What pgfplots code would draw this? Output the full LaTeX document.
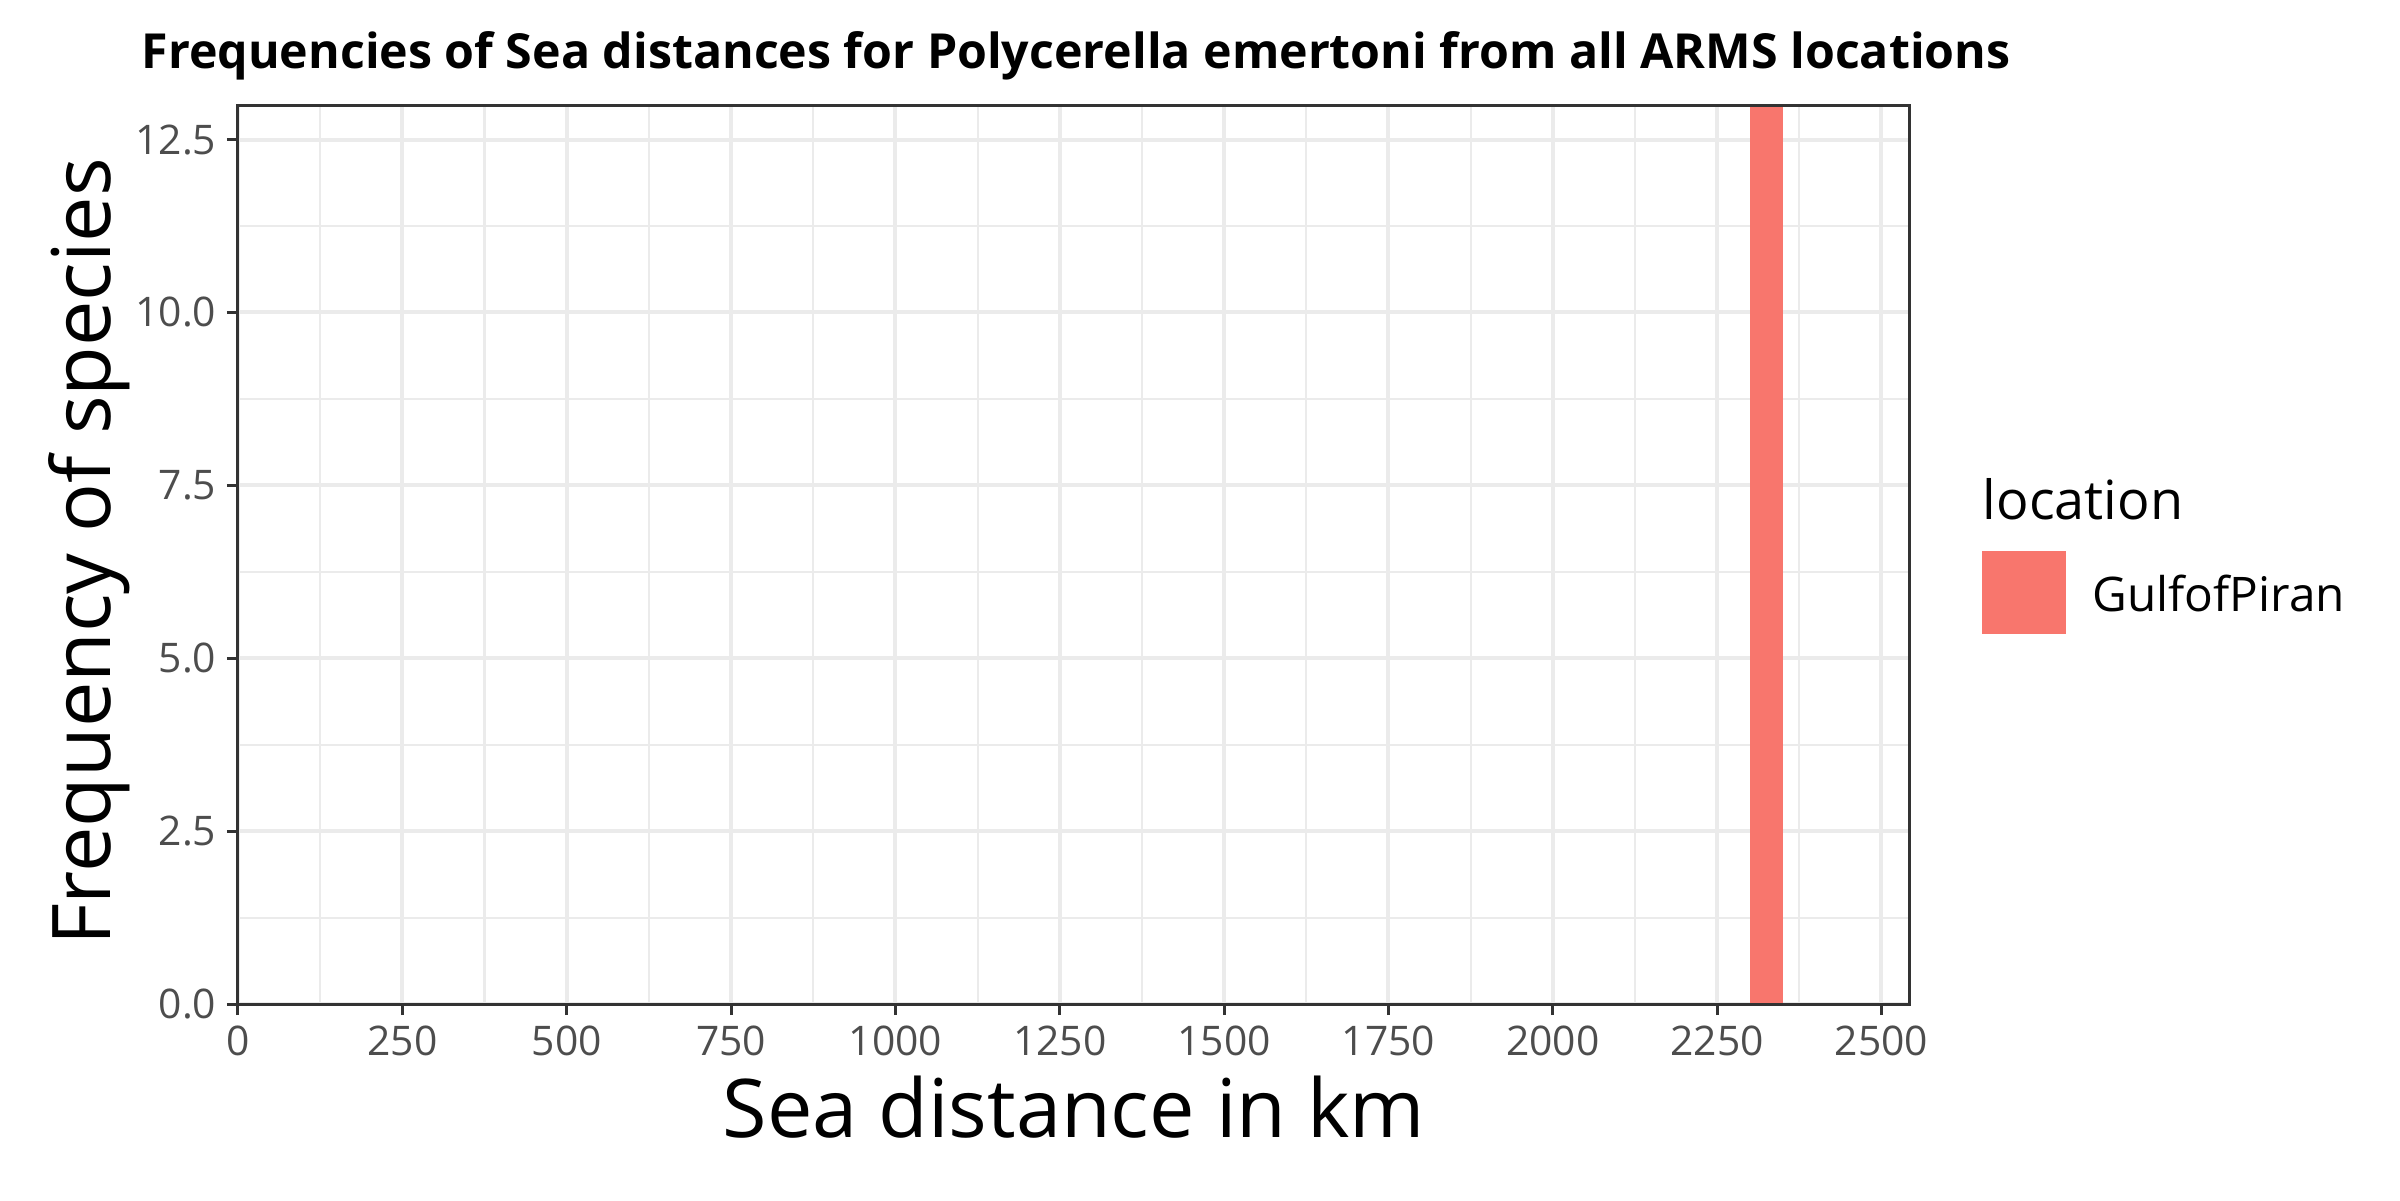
\documentclass[border=0pt]{standalone}
\usepackage{pgfplots}
\pgfplotsset{compat=1.18}
\usepackage{fontspec}
\setmainfont{Open Sans}
\definecolor{barred}{HTML}{F8766D}
\definecolor{gridgray}{HTML}{EBEBEB}
\definecolor{axgray}{HTML}{333333}
\definecolor{ticktext}{HTML}{4D4D4D}
\begin{document}
\begin{tikzpicture}
\useasboundingbox (0,0) rectangle (800pt,400pt);
\begin{axis}[
  at={(79.33pt,65.33pt)}, anchor=south west,
  width=557pt, height=299.67pt, scale only axis,
  xmin=0, xmax=2542, ymin=0, ymax=13,
  xtick={0,250,...,2500},
  ytick={0,2.5,5,7.5,10,12.5},
  minor xtick={125,375,...,2375},
  minor ytick={1.25,3.75,6.25,8.75,11.25},
  grid=both,
  major grid style={gridgray, line width=1.33pt},
  minor grid style={gridgray, line width=0.67pt},
  axis line style={axgray, line width=1pt},
  tick align=outside,
  major tick length=3.7pt,
  minor tick length=0pt,
  tick style={axgray, line width=1pt},
  xtick pos=left, ytick pos=left,
  tick label style={font=\fontsize{13.6}{16}\selectfont, text=ticktext},
  /pgf/number format/assume math mode=true,
  yticklabel style={/pgf/number format/fixed, /pgf/number format/fixed zerofill, /pgf/number format/precision=1},
  xticklabel style={/pgf/number format/fixed, /pgf/number format/1000 sep={}},
  scaled ticks=false,
]
\addplot[fill=barred, draw=none] coordinates {(2300,0) (2300,13) (2350,13) (2350,0)} -- cycle;
\draw[axgray, line width=1pt] (rel axis cs:0,0) rectangle (rel axis cs:1,1);
\end{axis}
\node[anchor=base west, inner sep=0pt, font=\fontsize{16.1}{19}\selectfont\bfseries] at (47pt,377pt) {Frequencies of Sea distances for Polycerella emertoni from all ARMS locations};
\node[anchor=base, inner sep=0pt, font=\fontsize{27}{31}\selectfont] at (358pt,21pt) {Sea distance in km};
\node[anchor=base, inner sep=0pt, rotate=90, font=\fontsize{27}{31}\selectfont] at (36.7pt,216pt) {Frequency of species};
\node[anchor=base west, inner sep=0pt, font=\fontsize{18}{21}\selectfont] at (660.7pt,226.7pt) {location};
\fill[barred] (660.7pt,188.7pt) rectangle (688.7pt,216.3pt);
\node[anchor=base west, inner sep=0pt, font=\fontsize{15.9}{19}\selectfont] at (697.3pt,196.3pt) {GulfofPiran};
\end{tikzpicture}
\end{document}
